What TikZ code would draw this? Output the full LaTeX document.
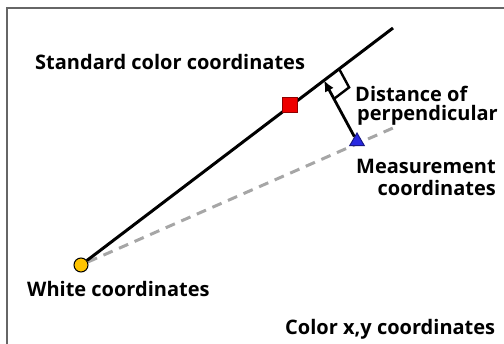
\documentclass[tikz,border=0pt]{standalone}
\usepackage{fontspec}
\setmainfont{Open Sans}
\usetikzlibrary{shapes.geometric,calc,backgrounds,arrows.meta}
\definecolor{whiteyel}{RGB}{255,196,0}
\definecolor{stdred}{RGB}{238,0,0}
\definecolor{measblue}{RGB}{40,40,225}

\begin{document}
\begin{tikzpicture}[
  x=1pt, y=-1pt,
  lbl/.style={inner sep=0pt, font=\fontsize{20}{22}\selectfont\bfseries},
  dot/.style={draw, line width=1pt, inner sep=0pt},
  mainline/.style={line width=3pt},
  fitline/.style={line width=3pt, gray!70, dash pattern=on 10pt off 7pt},
  arr/.style={-{Latex[length=11pt,width=10pt]}, line width=2.8pt}
]
\useasboundingbox (0,0) rectangle (504,344);
\draw[black!60, line width=1.8pt] (7,8) rectangle (530,370);

% points
\node[dot, circle, fill=whiteyel, minimum size=14pt] (white) at (81,265) {};
\node[dot, rectangle, fill=stdred, draw=stdred!60!black, minimum size=15pt] (std) at (290,105) {};
\node[dot, regular polygon, regular polygon sides=3, fill=measblue, draw=measblue!60!black, minimum size=17pt] (meas) at (357,141.5) {};
\coordinate (lineend) at (393,28);
\coordinate (fitend) at (393,128);
\coordinate (foot) at (324,80.4);

\begin{scope}[on background layer]
\draw[fitline] (white) -- (fitend);
\draw[mainline] (white) -- (lineend);
\end{scope}

% perpendicular
\draw[arr] (meas) -- (foot);
\coordinate (ra1) at ($(foot)!19pt!(lineend)$);
\coordinate (ra2) at ($(foot)!21pt!(meas)$);
\draw[line width=2.4pt] (ra1) -- ($(ra1)+(ra2)-(foot)$) -- (ra2);

% labels
\node[lbl, anchor=base west] (stdlbl) at (35,70) {Standard color coordinates};
\node[lbl, anchor=base west] (whitelbl) at (27,297) {White coordinates};
\node[lbl, anchor=base west] (axislbl) at (285,335) {Color x,y coordinates};
\node[lbl, anchor=north west, align=left] (distlbl) at (355,86) {Distance of\\[-3pt]\kern2pt perpendicular};
\node[lbl, anchor=north east, align=right] (measlbl) at (496,159) {Measurement\\[0pt]coordinates};
\end{tikzpicture}
\end{document}
